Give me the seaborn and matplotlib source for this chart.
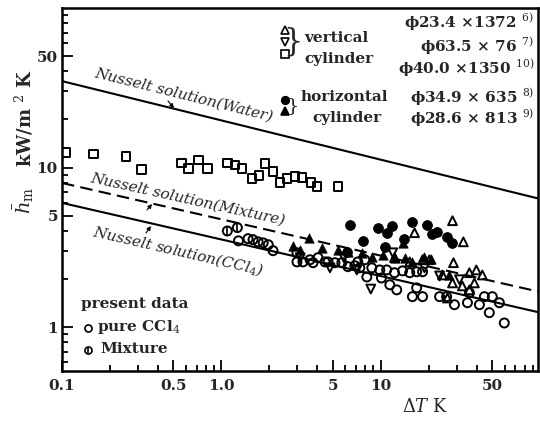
import numpy as np
import pandas as pd
import matplotlib
matplotlib.use("Agg")
import matplotlib.pyplot as plt
import seaborn as sns
from matplotlib.ticker import FixedLocator, FixedFormatter, LogLocator, NullFormatter

# ---------------- data ----------------
# Nusselt solutions (end points of straight lines in log-log)
nus_dT = [0.1, 97.0]
nus_water = [34.8, 6.4]
nus_mixture = [8.0, 1.67]
nus_ccl4 = [6.0, 1.24]

# vertical cylinder phi40.0 x 1350 (open squares)
sq_x = [0.106, 0.158, 0.251, 0.316, 0.562, 0.622, 0.718, 0.818, 1.09, 1.22, 1.35,
        1.56, 1.73, 1.88, 2.11, 2.34, 2.59, 2.90, 3.21, 3.65, 3.98, 5.38]
sq_y = [12.4, 12.1, 11.7, 9.7, 10.7, 9.86, 11.1, 9.86, 10.7, 10.4, 9.86,
        8.53, 8.91, 10.6, 9.44, 8.05, 8.53, 8.78, 8.65, 8.05, 7.6, 7.6]

# vertical cylinder phi23.4 x 1372 (open up-triangles)
tu_x = [28.2, 33.0, 16.3, 28.6, 36.0, 39.8, 43.4, 32.5, 26.2, 28.2, 18.3, 20.2,
        24.4, 12.2, 15.2, 36.0, 38.7]
tu_y = [4.64, 3.42, 3.90, 2.53, 2.19, 2.28, 2.12, 1.81, 1.52, 1.89, 2.64, 2.64,
        2.12, 2.72, 2.56, 1.71, 1.89]

# vertical cylinder phi63.5 x 76 (open down-triangles)
td_x = [11.9, 8.66, 4.80, 7.08, 18.8, 23.4, 31.2, 3.12, 5.87]
td_y = [2.92, 1.73, 2.35, 2.28, 2.35, 2.09, 1.98, 2.72, 2.72]

# horizontal cylinder phi34.9 x 635 (filled circles)
fc_x = [6.40, 9.58, 10.9, 11.7, 7.72, 10.6, 13.9, 15.8, 19.4, 21.1, 22.4, 25.9, 27.8, 6.13]
fc_y = [4.38, 4.19, 3.90, 4.32, 3.47, 3.19, 3.58, 4.57, 4.38, 3.84, 3.96, 3.68, 3.37, 2.96]

# horizontal cylinder phi28.6 x 813 (filled up-triangles)
ft_x = [2.82, 3.55, 4.28, 5.38, 6.22, 7.60, 8.79, 10.3, 12.2, 14.1, 15.8, 18.8,
        20.8, 27.0, 13.7, 3.12]
ft_y = [3.23, 3.63, 3.14, 3.05, 2.96, 2.92, 2.75, 2.84, 2.72, 2.72, 2.56, 2.75,
        2.68, 2.12, 3.37, 3.05]

# present data: pure CCl4 (open circles)
cc_x = [1.28, 1.47, 1.58, 1.70, 1.83, 1.97, 2.11, 2.98, 2.98, 3.25, 3.60, 4.04,
        4.47, 3.76, 4.67, 5.16, 5.70, 6.22, 6.88, 7.39, 8.18, 8.79, 9.86, 10.1,
        10.9, 11.4, 12.6, 12.2, 13.7, 15.2, 16.8, 18.3, 15.8, 16.8, 18.3, 23.4,
        25.9, 29.0, 35.0, 36.0, 41.6, 44.7, 48.0, 50.1, 55.5, 59.6, 7.18, 7.94]
cc_y = [3.47, 3.58, 3.53, 3.42, 3.37, 3.28, 3.01, 2.92, 2.56, 2.56, 2.64, 2.72,
        2.56, 2.53, 2.56, 2.53, 2.53, 2.39, 2.42, 2.35, 2.06, 2.35, 2.28, 2.03,
        2.28, 1.84, 1.71, 2.19, 2.25, 2.19, 2.22, 2.22, 1.55, 1.76, 1.55, 1.55,
        1.55, 1.38, 1.42, 1.64, 1.38, 1.55, 1.23, 1.55, 1.42, 1.06, 2.56, 2.64]

# present data: mixture
mx_x = [1.09, 1.26]
mx_y = [4.0, 4.2]

x_major = [0.1, 0.5, 1.0, 5, 10, 50]
x_major_labels = ["0.1", "0.5", "1.0", "5", "10", "50"]
y_major = [1, 5, 10, 50]
y_major_labels = ["1", "5", "10", "50"]

# ---------------- style ----------------
sns.set_theme(style="white")
plt.rcParams["font.family"] = ["DejaVu Serif"]
plt.rcParams["mathtext.fontset"] = "dejavuserif"

W, H = 540, 423
fig = plt.figure(figsize=(W / 100, H / 100), dpi=100)
ax = fig.add_axes([62 / W, 1 - 371 / H, 476 / W, 363 / H])

def P(px, py):
    return px / W, 1 - py / H

# lines
sns.lineplot(x=nus_dT, y=nus_water, ax=ax, color="black", lw=1.5)
sns.lineplot(x=nus_dT, y=nus_mixture, ax=ax, color="black", lw=1.5, linestyle=(0, (6, 3)))
sns.lineplot(x=nus_dT, y=nus_ccl4, ax=ax, color="black", lw=1.5)

kw_open = dict(facecolor="none", edgecolor="black", linewidth=1.4, ax=ax, zorder=3)
sns.scatterplot(x=sq_x, y=sq_y, marker="s", s=36, **kw_open)
sns.scatterplot(x=cc_x, y=cc_y, marker="o", s=42, **kw_open)
sns.scatterplot(x=tu_x, y=tu_y, marker="^", s=40, **kw_open)
sns.scatterplot(x=td_x, y=td_y, marker="v", s=40, **kw_open)
sns.scatterplot(x=mx_x, y=mx_y, marker="o", s=42, **kw_open)
sns.scatterplot(x=mx_x, y=mx_y, marker="|", s=30, color="black", linewidth=1.2, ax=ax, zorder=4)
sns.scatterplot(x=fc_x, y=fc_y, marker="o", s=50, color="black", edgecolor="black", ax=ax, zorder=4)
sns.scatterplot(x=ft_x, y=ft_y, marker="^", s=45, color="black", edgecolor="black", ax=ax, zorder=4)

ax.set_xscale("log")
ax.set_yscale("log")
ax.set_xlim(0.1, 97)
ax.set_ylim(0.53, 100)

ax.xaxis.set_major_locator(FixedLocator(x_major))
ax.xaxis.set_major_formatter(FixedFormatter(x_major_labels))
ax.xaxis.set_minor_locator(LogLocator(base=10, subs=np.arange(2, 10)))
ax.xaxis.set_minor_formatter(NullFormatter())
ax.yaxis.set_major_locator(FixedLocator(y_major))
ax.yaxis.set_major_formatter(FixedFormatter(y_major_labels))
ax.yaxis.set_minor_locator(LogLocator(base=10, subs=np.arange(2, 10)))
ax.yaxis.set_minor_formatter(NullFormatter())

ax.tick_params(which="both", direction="in", color="black", width=1.3,
               bottom=True, left=True, top=False, right=False)
ax.tick_params(which="major", length=8, labelsize=11)
ax.tick_params(axis="x", which="major", pad=6)
ax.tick_params(axis="y", which="major", pad=3)
ax.tick_params(which="minor", length=4.5)
for t in ax.get_xticklabels() + ax.get_yticklabels():
    t.set_fontweight("bold")
for s in ax.spines.values():
    s.set_color("black")
    s.set_linewidth(1.8)

# axis labels
fig.text(*P(425, 407), r"$\Delta T$ K", ha="center", va="center", fontsize=13)
fig.text(*P(24, 118), r"kW/m $^2$ K", ha="center", va="center", fontsize=13,
         rotation=90, fontweight="bold")
fig.text(*P(24, 200), r"$\bar{h}_{\rm m}$", ha="center", va="center", fontsize=14,
         rotation=90)

# Nusselt labels
lab_kw = dict(ha="center", va="center", fontsize=11, style="italic",
              rotation_mode="anchor", transform=fig.transFigure)
fig.text(*P(184, 95), "Nusselt solution(Water)", rotation=-14, **lab_kw)
fig.text(*P(188, 199), "Nusselt solution(Mixture)", rotation=-12.5, **lab_kw)
fig.text(*P(178, 251), "Nusselt solution(CCl$_4$)", rotation=-13, **lab_kw)

# little pointers
for (x0, y0, x1, y1) in [(168, 101, 174, 108), (147, 210, 152, 204), (146, 233, 151, 226)]:
    ax.annotate("", xy=P(x1, y1), xytext=P(x0, y0), xycoords="figure fraction",
                textcoords="figure fraction",
                arrowprops=dict(arrowstyle="-|>", color="black", lw=0.8,
                                mutation_scale=6, shrinkA=0, shrinkB=0))

# legend upper right
def mark(px, py, m, filled, s=30):
    fx, fy = P(px, py)
    fig.add_artist(plt.Line2D([fx], [fy], marker=m, markersize=s ** 0.5,
                              markerfacecolor="black" if filled else "none",
                              markeredgecolor="black", markeredgewidth=1.2,
                              linestyle="none", transform=fig.transFigure))

mark(285, 30, "^", False, 28)
mark(285, 42, "v", False, 28)
mark(285, 54, "s", False, 28)
fig.text(*P(293, 42), "}", fontsize=22, ha="center", va="center", fontweight="light")
fig.text(*P(304, 38), "vertical", fontsize=11, ha="left", va="center", fontweight="bold")
fig.text(*P(304, 59), "cylinder", fontsize=11, ha="left", va="center", fontweight="bold")
fig.text(*P(534, 22), "ϕ23.4 ×1372 $^{6)}$", fontsize=11, ha="right", va="center", fontweight="bold")
fig.text(*P(534, 46), "ϕ63.5 × 76 $^{7)}$", fontsize=11, ha="right", va="center", fontweight="bold")
fig.text(*P(534, 68), "ϕ40.0 ×1350 $^{10)}$", fontsize=11, ha="right", va="center", fontweight="bold")

mark(285, 100, "o", True, 30)
mark(285, 111, "^", True, 28)
fig.text(*P(293, 106), "}", fontsize=14, ha="center", va="center", fontweight="light")
fig.text(*P(301, 97), "horizontal", fontsize=11, ha="left", va="center", fontweight="bold")
fig.text(*P(312, 118), "cylinder", fontsize=11, ha="left", va="center", fontweight="bold")
fig.text(*P(534, 97), "ϕ34.9 × 635 $^{8)}$", fontsize=11, ha="right", va="center", fontweight="bold")
fig.text(*P(534, 118), "ϕ28.6 × 813 $^{9)}$", fontsize=11, ha="right", va="center", fontweight="bold")

# legend lower left
fig.text(*P(81, 304), "present data", fontsize=11, ha="left", va="center", fontweight="bold")
mark(88, 328, "o", False, 26)
fig.text(*P(97, 327), "pure CCl$_4$", fontsize=11, ha="left", va="center", fontweight="bold")
mark(88, 350, "o", False, 26)
mark(88, 350, "|", False, 20)
fig.text(*P(100, 349), "Mixture", fontsize=11, ha="left", va="center", fontweight="bold")

fig.savefig("out.png", dpi=100, facecolor="white")
